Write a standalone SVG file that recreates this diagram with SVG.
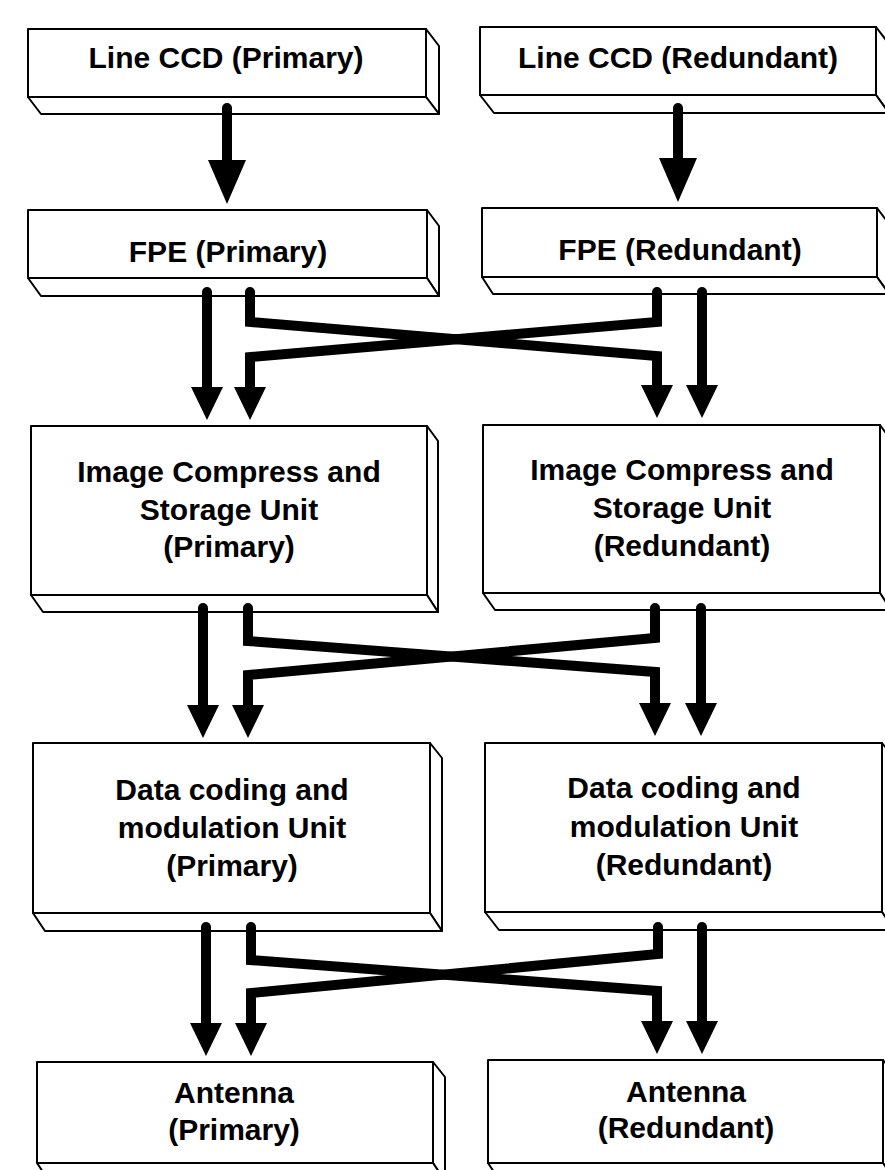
<svg xmlns="http://www.w3.org/2000/svg" width="885" height="1170" viewBox="0 0 885 1170">
  <style>
    .face { fill: #ffffff; stroke: #000000; stroke-width: 2; stroke-linejoin: round; }
    .label { font-family: "Liberation Sans", Arial, sans-serif; font-weight: bold; font-size: 30px; fill: #000000; text-anchor: middle; }
    .wire { fill: none; stroke: #000000; stroke-width: 10; stroke-linecap: round; stroke-linejoin: miter; }
    .wire-s { marker-end: url(#headSmall); }
    .wire-l { marker-end: url(#headLarge); }
  </style>
  <defs>
    <marker id="headSmall" markerUnits="userSpaceOnUse" viewBox="0 -16 33 32" markerWidth="33" markerHeight="32" refX="0" refY="0" orient="auto">
      <path d="M0,-16 L33,0 L0,16 Z" fill="#000000"/>
    </marker>
    <marker id="headLarge" markerUnits="userSpaceOnUse" viewBox="0 -19 44 38" markerWidth="44" markerHeight="38" refX="0" refY="0" orient="auto">
      <path d="M0,-19 L44,0 L0,19 Z" fill="#000000"/>
    </marker>
  </defs>

  <!-- Line CCD (Primary) -->
  <g id="ccd-primary">
    <polygon class="face" points="426,29 439,46 439,114 426,97"/>
    <polygon class="face" points="28,97 426,97 439,114 41,114"/>
    <rect class="face" x="28" y="29" width="398" height="68"/>
    <text class="label" x="226" y="68">Line CCD (Primary)</text>
  </g>

  <!-- Line CCD (Redundant) -->
  <g id="ccd-redundant">
    <polygon class="face" points="876,27 889,44 889,113 876,95"/>
    <polygon class="face" points="480,95 876,95 889,113 494,113"/>
    <rect class="face" x="480" y="27" width="396" height="68"/>
    <text class="label" x="678" y="68">Line CCD (Redundant)</text>
  </g>

  <!-- FPE (Primary) -->
  <g id="fpe-primary">
    <polygon class="face" points="427,210 439,226 439,296 427,278"/>
    <polygon class="face" points="28,278 427,278 439,296 41,296"/>
    <rect class="face" x="28" y="210" width="399" height="68"/>
    <text class="label" x="228" y="262">FPE (Primary)</text>
  </g>

  <!-- FPE (Redundant) -->
  <g id="fpe-redundant">
    <polygon class="face" points="877,208 889,224 889,294 877,277"/>
    <polygon class="face" points="482,277 877,277 889,294 493,294"/>
    <rect class="face" x="482" y="208" width="395" height="69"/>
    <text class="label" x="680" y="260">FPE (Redundant)</text>
  </g>

  <!-- Image Compress and Storage Unit (Primary) -->
  <g id="icsu-primary">
    <polygon class="face" points="427,426 438,441 438,612 427,595"/>
    <polygon class="face" points="31,595 427,595 438,612 43,612"/>
    <rect class="face" x="31" y="426" width="396" height="169"/>
    <text class="label" x="229" y="482">Image Compress and</text>
    <text class="label" x="229" y="520">Storage Unit</text>
    <text class="label" x="229" y="557">(Primary)</text>
  </g>

  <!-- Image Compress and Storage Unit (Redundant) -->
  <g id="icsu-redundant">
    <polygon class="face" points="880,425 891,440 891,610 880,593"/>
    <polygon class="face" points="483,593 880,593 891,610 495,610"/>
    <rect class="face" x="483" y="425" width="397" height="168"/>
    <text class="label" x="682" y="480">Image Compress and</text>
    <text class="label" x="682" y="518">Storage Unit</text>
    <text class="label" x="682" y="556">(Redundant)</text>
  </g>

  <!-- Data coding and modulation Unit (Primary) -->
  <g id="dcmu-primary">
    <polygon class="face" points="430,743 442,758 442,931 430,913"/>
    <polygon class="face" points="33,913 430,913 442,931 45,931"/>
    <rect class="face" x="33" y="743" width="397" height="170"/>
    <text class="label" x="232" y="800">Data coding and</text>
    <text class="label" x="232" y="838">modulation Unit</text>
    <text class="label" x="232" y="876">(Primary)</text>
  </g>

  <!-- Data coding and modulation Unit (Redundant) -->
  <g id="dcmu-redundant">
    <polygon class="face" points="882,743 894,758 894,930 882,912"/>
    <polygon class="face" points="485,912 882,912 894,930 499,930"/>
    <rect class="face" x="485" y="743" width="397" height="169"/>
    <text class="label" x="684" y="798">Data coding and</text>
    <text class="label" x="684" y="837">modulation Unit</text>
    <text class="label" x="684" y="875">(Redundant)</text>
  </g>

  <!-- Antenna (Primary) -->
  <g id="antenna-primary">
    <polygon class="face" points="433,1062 445,1077 445,1181 433,1163"/>
    <polygon class="face" points="37,1163 433,1163 445,1181 49,1181"/>
    <rect class="face" x="37" y="1062" width="396" height="101"/>
    <text class="label" x="234" y="1103">Antenna</text>
    <text class="label" x="234" y="1140">(Primary)</text>
  </g>

  <!-- Antenna (Redundant) -->
  <g id="antenna-redundant">
    <polygon class="face" points="883,1060 895,1075 895,1181 883,1163"/>
    <polygon class="face" points="488,1163 883,1163 895,1181 500,1181"/>
    <rect class="face" x="488" y="1060" width="395" height="103"/>
    <text class="label" x="686" y="1102">Antenna</text>
    <text class="label" x="686" y="1138">(Redundant)</text>
  </g>

  <!-- Connectors: each stage feeds both the primary and the redundant unit below -->
  <g id="connectors">
    <!-- CCD to FPE -->
    <path class="wire wire-l" d="M227,108 V160"/>
    <path class="wire wire-l" d="M678,108 V158"/>

    <!-- FPE to Image Compress and Storage Unit -->
    <path class="wire wire-s" d="M207,292 V387"/>
    <path class="wire wire-s" d="M250,292 V322 L657,356 V385"/>
    <path class="wire wire-s" d="M657,292 V322 L250,357 V387"/>
    <path class="wire wire-s" d="M702,292 V385"/>

    <!-- Image Compress and Storage Unit to Data coding and modulation Unit -->
    <path class="wire wire-s" d="M203,608 V705"/>
    <path class="wire wire-s" d="M248,608 V641 L655,672 V703"/>
    <path class="wire wire-s" d="M655,608 V638 L248,675 V705"/>
    <path class="wire wire-s" d="M701,608 V703"/>

    <!-- Data coding and modulation Unit to Antenna -->
    <path class="wire wire-s" d="M206,927 V1023"/>
    <path class="wire wire-s" d="M251,927 V960 L657,991 V1021"/>
    <path class="wire wire-s" d="M658,927 V954 L251,993 V1023"/>
    <path class="wire wire-s" d="M702,927 V1021"/>
  </g>
</svg>
